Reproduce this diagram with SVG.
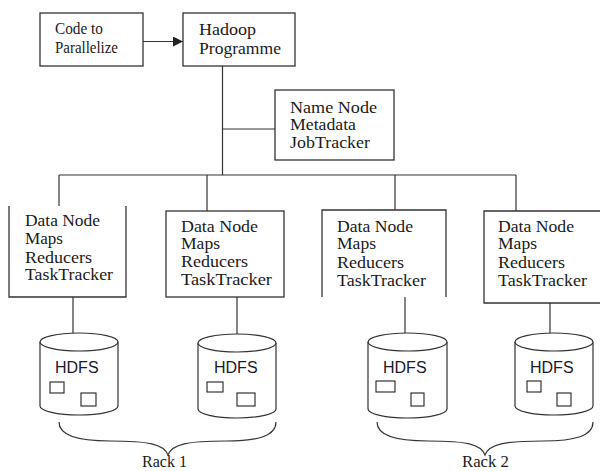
<svg xmlns="http://www.w3.org/2000/svg" width="600" height="471" viewBox="0 0 600 471">
<defs>
<style>
.box{fill:#fff;stroke:#333;stroke-width:1.3}
.ln{fill:none;stroke:#333;stroke-width:1.2}
.t{font-family:"Liberation Serif","Times New Roman",serif;font-size:16px;fill:#1a1a1a}
.s{font-family:"Liberation Sans",Arial,sans-serif;font-size:16px;fill:#1a1a2a}
.cyl{fill:#fff;stroke:#333;stroke-width:1.2}
.sq{fill:#fff;stroke:#222;stroke-width:1.1}
</style>
<marker id="arr" viewBox="0 0 10 10" refX="10" refY="5" markerWidth="10" markerHeight="10" markerUnits="userSpaceOnUse" orient="auto">
<path d="M0,0 L10,5 L0,10 Z" fill="#222"/>
</marker>
</defs>
<rect width="600" height="471" fill="#fff"/>

<g id="connectors">
<line class="ln" x1="143" y1="41.5" x2="183" y2="41.5" marker-end="url(#arr)"/>
<line class="ln" x1="222.5" y1="66" x2="222.5" y2="175"/>
<line class="ln" x1="222.5" y1="129" x2="275" y2="129"/>
<line class="ln" x1="59" y1="175" x2="516" y2="175"/>
<line class="ln" x1="59" y1="175" x2="59" y2="206"/>
<line class="ln" x1="207" y1="175" x2="207" y2="211"/>
<line class="ln" x1="395" y1="175" x2="395" y2="210"/>
<line class="ln" x1="516" y1="175" x2="516" y2="211"/>
<line class="ln" x1="73" y1="297" x2="73" y2="333"/>
<line class="ln" x1="237" y1="297" x2="237" y2="334"/>
<line class="ln" x1="405" y1="297" x2="405" y2="333"/>
<line class="ln" x1="550" y1="303" x2="550" y2="333"/>
</g>

<g id="code">
<rect class="box" x="40" y="13" width="103" height="53"/>
<text class="t" x="55" y="34" font-size="14" textLength="48" lengthAdjust="spacingAndGlyphs">Code to</text>
<text class="t" x="55" y="53" font-size="14" textLength="63" lengthAdjust="spacingAndGlyphs">Parallelize</text>
</g>

<g id="hadoop">
<rect class="box" x="183" y="13" width="112" height="53"/>
<text class="t" x="199" y="35" textLength="57" lengthAdjust="spacingAndGlyphs">Hadoop</text>
<text class="t" x="199" y="54" textLength="82" lengthAdjust="spacingAndGlyphs">Programme</text>
</g>

<g id="namenode">
<rect class="box" x="275" y="90" width="119" height="70"/>
<text class="t" x="290" y="113" textLength="87" lengthAdjust="spacingAndGlyphs">Name Node</text>
<text class="t" x="290" y="130" textLength="66" lengthAdjust="spacingAndGlyphs">Metadata</text>
<text class="t" x="290" y="148" textLength="80" lengthAdjust="spacingAndGlyphs">JobTracker</text>
</g>

<g id="datanode1">
<path class="box" d="M9,206 V297 H126 V206"/>
<text class="t" x="25" y="226" textLength="75" lengthAdjust="spacingAndGlyphs">Data Node</text>
<text class="t" x="25" y="244" textLength="38" lengthAdjust="spacingAndGlyphs">Maps</text>
<text class="t" x="25" y="263" textLength="67" lengthAdjust="spacingAndGlyphs">Reducers</text>
<text class="t" x="25" y="280" textLength="88" lengthAdjust="spacingAndGlyphs">TaskTracker</text>
</g>

<g id="datanode2">
<rect class="box" x="166" y="211" width="118" height="86"/>
<text class="t" x="181" y="232" textLength="77" lengthAdjust="spacingAndGlyphs">Data Node</text>
<text class="t" x="181" y="249" textLength="39" lengthAdjust="spacingAndGlyphs">Maps</text>
<text class="t" x="181" y="267" textLength="67" lengthAdjust="spacingAndGlyphs">Reducers</text>
<text class="t" x="181" y="285" textLength="91" lengthAdjust="spacingAndGlyphs">TaskTracker</text>
</g>

<g id="datanode3">
<path class="box" d="M322,297 V210 H446 V297"/>
<text class="t" x="337" y="232" textLength="76" lengthAdjust="spacingAndGlyphs">Data Node</text>
<text class="t" x="337" y="249" textLength="39" lengthAdjust="spacingAndGlyphs">Maps</text>
<text class="t" x="337" y="268" textLength="67" lengthAdjust="spacingAndGlyphs">Reducers</text>
<text class="t" x="337" y="286" textLength="89" lengthAdjust="spacingAndGlyphs">TaskTracker</text>
</g>

<g id="datanode4">
<path class="box" d="M605,211 H484 V303 H605"/>
<text class="t" x="498" y="232" textLength="76" lengthAdjust="spacingAndGlyphs">Data Node</text>
<text class="t" x="498" y="249" textLength="39" lengthAdjust="spacingAndGlyphs">Maps</text>
<text class="t" x="498" y="268" textLength="67" lengthAdjust="spacingAndGlyphs">Reducers</text>
<text class="t" x="498" y="286" textLength="89" lengthAdjust="spacingAndGlyphs">TaskTracker</text>
</g>

<g id="hdfs1">
<path class="cyl" d="M40,342 L40,406 A39,9 0 0,0 118,406 L118,342"/>
<ellipse class="cyl" cx="79" cy="342" rx="39" ry="9"/>
<text class="s" x="55" y="373">HDFS</text>
<rect class="sq" x="50" y="382" width="14" height="11"/>
<rect class="sq" x="81" y="393" width="15" height="13"/>
</g>

<g id="hdfs2">
<path class="cyl" d="M198,343 L198,409 A39,9 0 0,0 276,409 L276,343"/>
<ellipse class="cyl" cx="237" cy="343" rx="39" ry="9"/>
<text class="s" x="214" y="373">HDFS</text>
<rect class="sq" x="207" y="382" width="16" height="10"/>
<rect class="sq" x="237" y="393" width="18" height="13"/>
</g>

<g id="hdfs3">
<path class="cyl" d="M368,342 L368,409 A39.5,9 0 0,0 447,409 L447,342"/>
<ellipse class="cyl" cx="407.5" cy="342" rx="39.5" ry="9"/>
<text class="s" x="383" y="373">HDFS</text>
<rect class="sq" x="376" y="381" width="19" height="11"/>
<rect class="sq" x="411" y="393" width="13" height="13"/>
</g>

<g id="hdfs4">
<path class="cyl" d="M515,342 L515,406 A39,9 0 0,0 593,406 L593,342"/>
<ellipse class="cyl" cx="554" cy="342" rx="39" ry="9"/>
<text class="s" x="530" y="373">HDFS</text>
<rect class="sq" x="527" y="381" width="14" height="11"/>
<rect class="sq" x="557" y="393" width="14" height="13"/>
</g>

<g id="rack1">
<path class="ln" d="M59,422 C59,436 78,441 110,441 C148,441 164,444 168,455 C172,444 188,441 226,441 C258,441 276,436 276,422"/>
<text class="t" x="142" y="467" font-size="14" textLength="45" lengthAdjust="spacingAndGlyphs">Rack 1</text>
</g>

<g id="rack2">
<path class="ln" d="M377,422 C377,436 396,441 428,441 C466,441 481,444 485,455 C489,444 505,441 543,441 C575,441 593,436 593,422"/>
<text class="t" x="462" y="467" font-size="14" textLength="47" lengthAdjust="spacingAndGlyphs">Rack 2</text>
</g>
</svg>
